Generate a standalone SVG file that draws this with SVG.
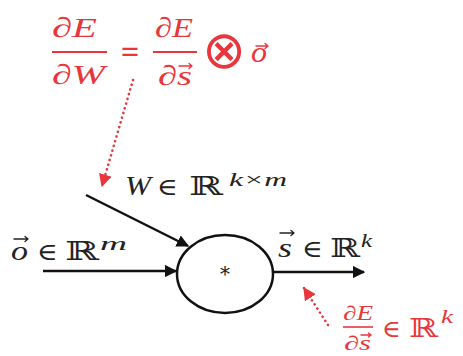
<svg xmlns="http://www.w3.org/2000/svg" width="463" height="356" viewBox="0 0 463 356">
<style>
.m{font-family:"Liberation Serif","DejaVu Serif",serif;font-style:italic;fill:#222}
.r{fill:#e8363c}
.u{font-family:"DejaVu Serif","Liberation Serif",serif;font-style:normal}
.blk{stroke:#111;stroke-width:2.5;fill:none}
.dot{stroke:#e8363c;stroke-width:2.6;stroke-dasharray:0.1 4.8;stroke-linecap:round;fill:none}
.va{fill:none;stroke:#222;stroke-width:1.3;stroke-linecap:round;stroke-linejoin:round}
.vr{stroke:#e8363c}
</style>
<defs>
<marker id="ab" viewBox="0 0 10 10" refX="9" refY="5" markerWidth="5" markerHeight="5" orient="auto" markerUnits="strokeWidth"><path d="M0,0 L10,5 L0,10 z" fill="#111"/></marker>
<marker id="ar" viewBox="0 0 10 10" refX="9" refY="5" markerWidth="5" markerHeight="5" orient="auto" markerUnits="strokeWidth"><path d="M0,0 L10,5 L0,10 z" fill="#e8363c"/></marker>
</defs>
<g id="connectors">
<line class="dot" x1="133" y1="80" x2="102" y2="186" marker-end="url(#ar)"/>
<line class="blk" x1="86" y1="195" x2="188" y2="246" marker-end="url(#ab)"/>
<line class="blk" x1="43" y1="271" x2="176" y2="271" marker-end="url(#ab)"/>
<line class="blk" x1="273" y1="272" x2="364" y2="272" marker-end="url(#ab)"/>
<line class="dot" x1="328" y1="325" x2="304" y2="288" marker-end="url(#ar)"/>
</g>
<g id="formula-dEdW">
<text class="m r" x="52" y="37" font-size="28" textLength="45" lengthAdjust="spacingAndGlyphs">∂E</text>
<line x1="52" y1="52" x2="107" y2="52" stroke="#e8363c" stroke-width="2"/>
<text class="m r" x="52" y="84" font-size="28" textLength="53" lengthAdjust="spacingAndGlyphs">∂W</text>
<text class="m r u" x="120" y="61" font-size="30" textLength="20" lengthAdjust="spacingAndGlyphs">=</text>
<text class="m r" x="155" y="37" font-size="28" textLength="38" lengthAdjust="spacingAndGlyphs">∂E</text>
<line x1="153" y1="52" x2="197" y2="52" stroke="#e8363c" stroke-width="2"/>
<text class="m r" x="158" y="85" font-size="28" textLength="34" lengthAdjust="spacingAndGlyphs">∂s</text>
<path class="va vr" d="M179,66 h13 m-3,-2.5 l3,2.5 l-3,2.5"/>
<text class="m r u" x="224" y="68" font-size="52" text-anchor="middle" style="font-family:'DejaVu Sans',sans-serif;font-weight:normal">⊗</text>
<text class="m r" x="251" y="62" font-size="30" textLength="16" lengthAdjust="spacingAndGlyphs">o</text>
<path class="va vr" d="M256,46 h12 m-3,-2.5 l3,2.5 l-3,2.5"/>
</g>
<g id="label-W">
<text class="m" x="125" y="195" font-size="28" textLength="26" lengthAdjust="spacingAndGlyphs">W</text>
<text class="m u" x="157" y="195" font-size="24" textLength="21" lengthAdjust="spacingAndGlyphs">∈</text>
<text class="m u" x="189" y="195" font-size="26" textLength="34" lengthAdjust="spacingAndGlyphs">ℝ</text>
<text class="m" x="229" y="186" font-size="19" textLength="58" lengthAdjust="spacingAndGlyphs">k×m</text>
</g>
<g id="label-o">
<text class="m" x="11" y="260" font-size="28" textLength="17" lengthAdjust="spacingAndGlyphs">o</text>
<path class="va" d="M14,239 h14 m-3,-2.5 l3,2.5 l-3,2.5"/>
<text class="m u" x="37" y="260" font-size="24" textLength="21" lengthAdjust="spacingAndGlyphs">∈</text>
<text class="m u" x="65" y="260" font-size="26" textLength="34" lengthAdjust="spacingAndGlyphs">ℝ</text>
<text class="m" x="100" y="250" font-size="19" textLength="27" lengthAdjust="spacingAndGlyphs">m</text>
</g>
<g id="node-mult">
<ellipse cx="225" cy="274" rx="48" ry="39" fill="none" stroke="#111" stroke-width="2.5"/>
<text class="m u" x="225" y="281" font-size="20" text-anchor="middle">*</text>
</g>
<g id="label-s">
<text class="m" x="278" y="257" font-size="28" textLength="14" lengthAdjust="spacingAndGlyphs">s</text>
<path class="va" d="M280,233 h14 m-3,-2.5 l3,2.5 l-3,2.5"/>
<text class="m u" x="302" y="257" font-size="24" textLength="21" lengthAdjust="spacingAndGlyphs">∈</text>
<text class="m u" x="330" y="257" font-size="26" textLength="30" lengthAdjust="spacingAndGlyphs">ℝ</text>
<text class="m" x="361" y="247" font-size="19" textLength="11" lengthAdjust="spacingAndGlyphs">k</text>
</g>
<g id="formula-dEds">
<text class="m r" x="343" y="320" font-size="20" textLength="30" lengthAdjust="spacingAndGlyphs">∂E</text>
<line x1="343" y1="327" x2="373" y2="327" stroke="#e8363c" stroke-width="1.6"/>
<text class="m r" x="344" y="350" font-size="20" textLength="27" lengthAdjust="spacingAndGlyphs">∂s</text>
<path class="va vr" d="M361,335 h10 m-2.5,-2 l2.5,2 l-2.5,2"/>
<text class="m r u" x="382" y="337" font-size="24" textLength="19" lengthAdjust="spacingAndGlyphs">∈</text>
<text class="m r u" x="409" y="337" font-size="26" textLength="29" lengthAdjust="spacingAndGlyphs">ℝ</text>
<text class="m r" x="441" y="323" font-size="19" textLength="12" lengthAdjust="spacingAndGlyphs">k</text>
</g>
</svg>
